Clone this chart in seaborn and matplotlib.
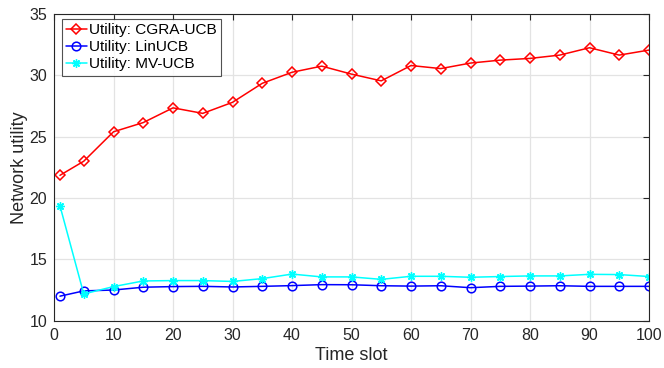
import matplotlib
matplotlib.use("Agg")
import matplotlib.pyplot as plt
import seaborn as sns
import pandas as pd

# Time slots at which utility was recorded
time_slots = [1, 5, 10, 15, 20, 25, 30, 35, 40, 45, 50,
              55, 60, 65, 70, 75, 80, 85, 90, 95, 100]

# Network utility per algorithm
cgra_ucb = [21.85, 23.0, 25.4, 26.15, 27.35, 26.9, 27.8, 29.35, 30.25, 30.75, 30.1,
            29.55, 30.8, 30.55, 31.0, 31.24, 31.38, 31.65, 32.25, 31.65, 32.06]
lin_ucb = [12.0, 12.43, 12.5, 12.73, 12.78, 12.8, 12.75, 12.8, 12.86, 12.94, 12.93,
           12.85, 12.82, 12.85, 12.69, 12.8, 12.82, 12.85, 12.8, 12.8, 12.8]
mv_ucb = [19.37, 12.18, 12.78, 13.24, 13.27, 13.27, 13.2, 13.43, 13.8, 13.57, 13.57,
          13.37, 13.62, 13.62, 13.54, 13.6, 13.65, 13.65, 13.78, 13.76, 13.6]

series_names = ["Utility: CGRA-UCB", "Utility: LinUCB", "Utility: MV-UCB"]
series_colors = ["#ff0000", "#0000ff", "#00ffff"]

x_ticks = [0, 10, 20, 30, 40, 50, 60, 70, 80, 90, 100]
y_ticks = [10, 15, 20, 25, 30, 35]

df = pd.DataFrame({
    "Time slot": time_slots * 3,
    "Utility": cgra_ucb + lin_ucb + mv_ucb,
    "Series": sum([[n] * len(time_slots) for n in series_names], []),
})

sns.set_style("white")
plt.rcParams["font.family"] = ["Liberation Sans", "DejaVu Sans"]
text_color = "#262626"

fig = plt.figure(figsize=(6.64, 3.68), dpi=100)
ax = fig.add_axes([54 / 664, 1 - 320.7 / 368, 595 / 664, (320.7 - 14) / 368])

ax.grid(True, color="#e3e3e3", linewidth=0.9)
ax.set_axisbelow(True)

# marker style per series: (marker, size, face, edge width)
styles = [("D", 5.6, "none", 1.1),
          ("o", 6.2, "none", 1.1),
          ((8, 2, 0), 6.0, None, 1.0)]

for name, color, (marker, ms, face, mew) in zip(series_names, series_colors, styles):
    sub = df[df["Series"] == name]
    sns.lineplot(data=sub, x="Time slot", y="Utility", ax=ax, color=color,
                 linewidth=1.1, marker=marker, markersize=ms,
                 markerfacecolor=face if face is not None else color,
                 markeredgecolor=color, markeredgewidth=mew,
                 label=name, errorbar=None)

ax.set_xlim(0, 100)
ax.set_ylim(10, 35)
ax.set_xticks(x_ticks)
ax.set_yticks(y_ticks)
ax.tick_params(direction="in", length=4, width=0.8, top=True, right=True,
               labelsize=11.5, colors=text_color, pad=5)
for sp in ax.spines.values():
    sp.set_visible(True)
    sp.set_color(text_color)
    sp.set_linewidth(0.8)

ax.set_xlabel("Time slot", fontsize=13, color=text_color, labelpad=3)
ax.set_ylabel("Network utility", fontsize=13, color=text_color, labelpad=1)

leg = ax.legend(loc="upper left", bbox_to_anchor=(0.008, 0.995), fontsize=11.1,
                frameon=True, fancybox=False, edgecolor=text_color,
                handlelength=1.3, handletextpad=0.15, borderpad=0.3,
                labelspacing=0.2, borderaxespad=0.2)
leg.get_frame().set_linewidth(0.8)
for t in leg.get_texts():
    t.set_color("black")

fig.savefig("out.png", dpi=100)
